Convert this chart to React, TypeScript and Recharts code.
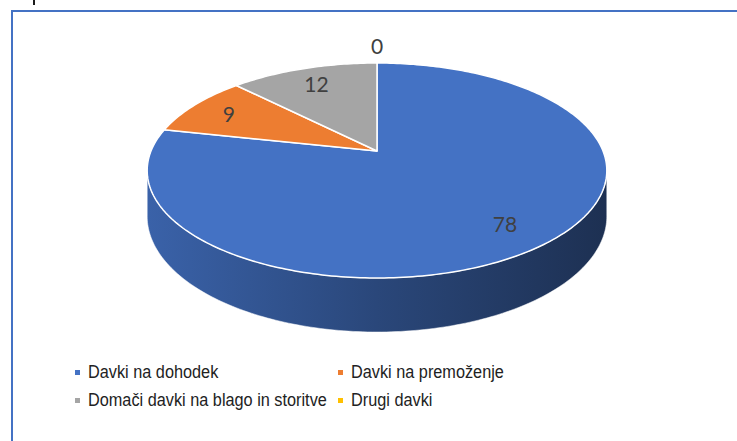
import React from 'react';
import { PieChart, Pie } from 'recharts';

// ---- data ----
const categories = [
  'Davki na dohodek',
  'Davki na premoženje',
  'Domači davki na blago in storitve',
  'Drugi davki',
];
const shares = [78.4, 9.2, 12.4, 0];
const topColors = ['#4472C4', '#ED7D31', '#A5A5A5', '#FFC000'];

const data = categories.map((name, i) => ({ name, value: shares[i] }));

// ---- 3D projection settings ----
const CX = 377;
const CY = 151;
const R = 226;
const TILT = 0.46; // vertical squash of the disc
const PERSP = 0.1814; // perspective strength
const DEPTH = 0.1957; // thickness relative to radius
const VIS_LO = 90 + (Math.asin(PERSP) * 180) / Math.PI;
const VIS_HI = 270 - (Math.asin(PERSP) * 180) / Math.PI;

function project(cx: number, cy: number, r: number, thetaDeg: number, frac = 1, down = 0) {
  const t = (thetaDeg * Math.PI) / 180;
  const u = Math.sin(t) * frac;
  const v = -Math.cos(t) * frac;
  const d = 1 - PERSP * v;
  return [cx + (r * u) / d, cy + (r * TILT * v + r * DEPTH * down) / d];
}

function arcPoints(cx: number, cy: number, r: number, a: number, b: number, down: number) {
  const n = Math.max(2, Math.ceil(Math.abs(b - a)) + 1);
  const pts: number[][] = [];
  for (let i = 0; i < n; i++) {
    const th = a + ((b - a) * i) / (n - 1);
    pts.push(project(cx, cy, r, th, 1, down));
  }
  return pts;
}

const toPath = (pts: number[][]) =>
  'M' + pts.map((p) => p[0].toFixed(2) + ',' + p[1].toFixed(2)).join('L') + 'Z';

function shade(hex: string, f: number) {
  const n = parseInt(hex.slice(1), 16);
  const r = Math.round(((n >> 16) & 255) * f);
  const g = Math.round(((n >> 8) & 255) * f);
  const b = Math.round((n & 255) * f);
  return `rgb(${r},${g},${b})`;
}

function thetaRange(p: any) {
  let a = 90 - p.startAngle;
  let b = 90 - p.endAngle;
  if (a > b) [a, b] = [b, a];
  return [a, b];
}

const renderSide = (p: any) => {
  const { cx, cy, outerRadius: r, index } = p;
  const [a, b] = thetaRange(p);
  const lo = Math.max(a, VIS_LO);
  const hi = Math.min(b, VIS_HI);
  if (hi <= lo) return <g />;
  const top = arcPoints(cx, cy, r, lo, hi, 0);
  const bot = arcPoints(cx, cy, r, lo, hi, 1).reverse();
  const base = topColors[index];
  const id = `pie-side-grad-${index}`;
  return (
    <g>
      <defs>
        <linearGradient id={id} gradientUnits="userSpaceOnUse" x1={cx - r * 1.02} y1={0} x2={cx + r * 1.02} y2={0}>
          <stop offset="0" stopColor={shade(base, 0.86)} />
          <stop offset="0.5" stopColor={shade(base, 0.62)} />
          <stop offset="1" stopColor={shade(base, 0.42)} />
        </linearGradient>
      </defs>
      <path d={toPath([...top, ...bot])} fill={`url(#${id})`} stroke="rgba(255,255,255,0.5)" strokeWidth={1} />
    </g>
  );
};

const renderTop = (p: any) => {
  const { cx, cy, outerRadius: r, index } = p;
  const [a, b] = thetaRange(p);
  if (b - a <= 0.001) return <g />;
  const pts = [[cx, cy], ...arcPoints(cx, cy, r, a, b, 0)];
  return (
    <path
      d={toPath(pts)}
      fill={topColors[index]}
      stroke="#ffffff"
      strokeWidth={1.5}
      strokeLinejoin="round"
    />
  );
};

const renderValue = (p: any) => {
  const { cx, cy, outerRadius: r, midAngle } = p;
  const value = p.value ?? p.payload?.value ?? 0;
  const frac = value === 0 ? 1.25 : 0.8;
  const [x, y] = project(cx, cy, r, 90 - midAngle, frac);
  return (
    <text
      x={x}
      y={y}
      textAnchor="middle"
      dominantBaseline="central"
      fill="#404040"
      fontSize={21}
      fontFamily="Lato, 'Open Sans', sans-serif"
    >
      {Math.round(value)}
    </text>
  );
};

function LegendBlock() {
  return (
    <div
      style={{
        position: 'absolute',
        left: 75,
        top: 358,
        display: 'grid',
        gridTemplateColumns: '263px 320px',
        fontFamily: '"Liberation Sans", Arial, sans-serif',
        fontSize: 17.5,
        color: '#222222',
        lineHeight: '28px',
      }}
    >
      {categories.map((name, i) => (
        <div key={name} style={{ display: 'flex', alignItems: 'center', whiteSpace: 'nowrap' }}>
          <span
            style={{
              width: 5,
              height: 5,
              background: topColors[i],
              marginRight: 8,
              flex: 'none',
            }}
          />
          <span style={{ display: 'inline-block', transform: 'scaleX(0.93)', transformOrigin: 'left center' }}>
            {name}
          </span>
        </div>
      ))}
    </div>
  );
}

export default function App() {
  const common = {
    data,
    dataKey: 'value',
    nameKey: 'name',
    cx: CX,
    cy: CY,
    outerRadius: R,
    startAngle: 90,
    endAngle: -270,
    isAnimationActive: false,
    fill: 'none',
    stroke: 'none',
    labelLine: false,
    legendType: 'none',
  } as any;
  return (
    <div
      style={{
        position: 'fixed',
        left: 0,
        top: 0,
        width: 737,
        height: 441,
        overflow: 'hidden',
        background: '#ffffff',
      }}
    >
      <div style={{ position: 'absolute', left: 33, top: 0, width: 2, height: 5, background: '#1a1a1a' }} />
      <div
        style={{
          position: 'absolute',
          left: 11,
          top: 10,
          width: 800,
          height: 500,
          borderTop: '2px solid #4472C4',
          borderLeft: '2px solid #4472C4',
        }}
      />
      <div style={{ position: 'absolute', left: 0, top: 0 }}>
        <PieChart width={737} height={441} margin={{ top: 0, right: 0, bottom: 0, left: 0 }}>
          <Pie {...common} label={renderSide} />
          <Pie {...common} label={renderTop} />
          <Pie {...common} label={renderValue} />
        </PieChart>
      </div>
      <LegendBlock />
    </div>
  );
}
